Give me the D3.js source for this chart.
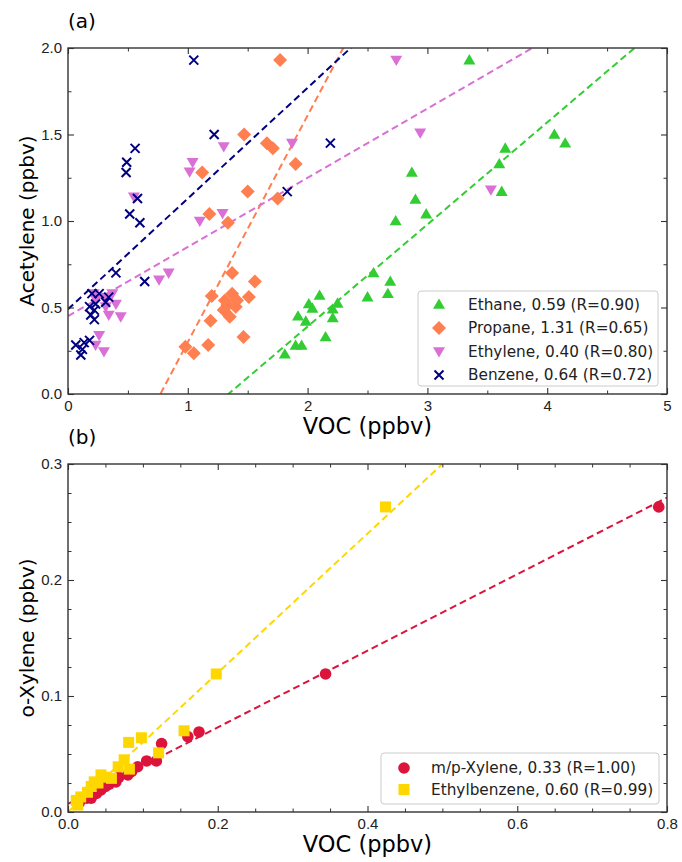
<!DOCTYPE html>
<html>
<head>
<meta charset="utf-8">
<script src="https://cdn.jsdelivr.net/npm/d3@7"></script>
<style>
  body { margin: 0; background: #fff; }
  svg { font-family: "DejaVu Sans", sans-serif; }
  .tick text { fill: #222; }
</style>
</head>
<body>
<svg id="chart"></svg>
<script>
var width = 682;
var height = 862;

// panel (a): acetylene vs VOC, [VOC, acetylene]
var ethane = [[3.35,1.93],[4.06,1.50],[4.15,1.45],[3.65,1.42],[3.60,1.33],[3.62,1.17],[2.87,1.28],
  [2.90,1.125],[2.99,1.04],[2.735,1.00],[2.55,0.70],[2.69,0.65],[2.50,0.56],[2.67,0.58],[2.10,0.57],
  [2.01,0.52],[2.04,0.495],[2.25,0.524],[2.21,0.49],[2.21,0.44],[1.92,0.45],[1.985,0.42],[2.15,0.33],
  [1.90,0.28],[1.95,0.28],[1.81,0.23]];
var propane = [[1.77,1.93],[1.47,1.50],[1.66,1.45],[1.71,1.42],[1.90,1.33],[1.12,1.28],[1.50,1.17],
  [1.75,1.13],[1.18,1.04],[1.335,0.99],[1.37,0.70],[1.56,0.65],[1.20,0.567],[1.37,0.58],[1.51,0.56],
  [1.33,0.515],[1.40,0.505],[1.30,0.485],[1.35,0.447],[1.31,0.54],[1.41,0.54],[1.19,0.424],
  [1.465,0.33],[1.17,0.283],[0.98,0.273],[1.05,0.235]];
var ethylene = [[2.74,1.93],[2.94,1.51],[3.53,1.18],[1.04,1.34],[1.015,1.285],[1.30,1.43],[1.87,1.45],
  [0.55,1.14],[1.29,1.045],[1.10,1.00],[0.84,0.70],[0.76,0.66],[0.37,0.58],[0.23,0.55],[0.40,0.52],
  [0.315,0.505],[0.34,0.457],[0.44,0.447],[0.26,0.34],[0.23,0.283],[0.30,0.245],[0.215,0.58],[0.30,0.56]];
var benzene = [[1.05,1.93],[1.22,1.50],[0.56,1.42],[0.49,1.34],[0.485,1.28],[0.58,1.13],[0.515,1.04],
  [0.60,0.99],[2.19,1.45],[1.83,1.17],[0.40,0.70],[0.64,0.65],[0.20,0.58],[0.26,0.58],[0.34,0.56],
  [0.315,0.53],[0.23,0.52],[0.18,0.505],[0.22,0.485],[0.19,0.457],[0.22,0.43],[0.18,0.31],
  [0.135,0.297],[0.065,0.283],[0.12,0.258],[0.107,0.225]];

// panel (b): o-xylene vs VOC
var mpXylene = [[0.015,0.008],[0.025,0.012],[0.031,0.012],[0.038,0.016],[0.044,0.019],[0.050,0.022],
  [0.055,0.024],[0.064,0.026],[0.068,0.030],[0.080,0.032],[0.085,0.035],[0.093,0.039],[0.105,0.044],
  [0.118,0.044],[0.125,0.059],[0.160,0.065],[0.175,0.069],[0.344,0.119],[0.789,0.263]];
var ethylbenzene = [[0.011,0.010],[0.013,0.006],[0.017,0.013],[0.026,0.017],[0.031,0.022],[0.035,0.026],
  [0.040,0.025],[0.044,0.032],[0.050,0.030],[0.058,0.029],[0.067,0.039],[0.075,0.045],[0.082,0.037],
  [0.081,0.060],[0.098,0.064],[0.121,0.051],[0.155,0.070],[0.198,0.119],[0.424,0.263]];

// fitted lines: slope from legend, intercept
var seriesA = ["Ethane", "Propane", "Ethylene", "Benzene"];
var slopesA = [0.59, 1.31, 0.40, 0.64];
var interceptsA = [-0.79, -1.01, 0.45, 0.49];
var rA = ["0.90", "0.65", "0.80", "0.72"];

var seriesB = ["m/p-Xylene", "Ethylbenzene"];
var slopesB = [0.33, 0.60];
var interceptsB = [0.007, 0.0];
var rB = ["1.00", "0.99"];

var xTicksA = [0, 1, 2, 3, 4, 5];
var yTicksA = [0.0, 0.5, 1.0, 1.5, 2.0];
var xTicksB = [0.0, 0.2, 0.4, 0.6, 0.8];
var yTicksB = [0.0, 0.1, 0.2, 0.3];

var svg = d3.select("#chart").attr("width", width).attr("height", height);

var left = 68, right = 667;

function shape(kind, g, color) {
  if (kind == "up") {
    g.append("path").attr("d", "M0,-6L6,4.3L-6,4.3Z").attr("fill", color);
  } else if (kind == "down") {
    g.append("path").attr("d", "M0,6L6,-4.3L-6,-4.3Z").attr("fill", color);
  } else if (kind == "diamond") {
    g.append("path").attr("d", "M0,-7L7,0L0,7L-7,0Z").attr("fill", color);
  } else if (kind == "x") {
    g.append("path").attr("d", "M-4.5,-4.5L4.5,4.5M-4.5,4.5L4.5,-4.5")
      .attr("stroke", color).attr("stroke-width", 2).attr("fill", "none");
  } else if (kind == "circle") {
    g.append("circle").attr("r", 5.8).attr("fill", color);
  } else if (kind == "square") {
    g.append("rect").attr("x", -5.5).attr("y", -5.5).attr("width", 11).attr("height", 11).attr("fill", color);
  }
}

function panel(opt) {
  var x = d3.scaleLinear().domain(opt.xDomain).range([left, right]);
  var y = d3.scaleLinear().domain(opt.yDomain).range([opt.bottom, opt.top]);
  var g = svg.append("g");

  g.append("clipPath").attr("id", opt.id + "clip")
    .append("rect").attr("x", left).attr("y", opt.top)
    .attr("width", right - left).attr("height", opt.bottom - opt.top);

  // fit lines
  var plot = g.append("g").attr("clip-path", "url(#" + opt.id + "clip)");
  opt.series.forEach(function (s, i) {
    var pts = opt.xDomain.map(v => [v, opt.slopes[i] * v + opt.intercepts[i]]);
    plot.append("path")
      .attr("d", d3.line().x(d => x(d[0])).y(d => y(d[1]))(pts))
      .attr("fill", "none").attr("stroke", opt.colors[i])
      .attr("stroke-width", 2).attr("stroke-dasharray", "7,4");
  });
  // points
  opt.series.forEach(function (s, i) {
    plot.selectAll(null).data(opt.data[i]).enter().append("g")
      .attr("transform", d => "translate(" + x(d[0]) + "," + y(d[1]) + ")")
      .each(function () { shape(opt.shapes[i], d3.select(this), opt.colors[i]); });
  });

  // axes, ticks pointing inward on all sides
  function ax(axis, tr, major, minor, labels) {
    var a = g.append("g").attr("transform", tr)
      .call(axis.scale(major.sc).tickValues(major.v).tickSize(-6).tickPadding(6)
        .tickFormat(labels ? major.f : ""));
    a.select(".domain").remove();
    a.selectAll(".tick line").attr("stroke", "#333").attr("stroke-width", 1.1);
    a.selectAll("text").attr("font-size", 15);
    var b = g.append("g").attr("transform", tr)
      .call(axis.scale(major.sc).tickValues(minor).tickSize(-3.5).tickFormat(""));
    b.select(".domain").remove();
    b.selectAll(".tick line").attr("stroke", "#333").attr("stroke-width", 1);
  }
  var xm = { sc: x, v: opt.xTicks, f: opt.xFmt };
  var ym = { sc: y, v: opt.yTicks, f: opt.yFmt };
  ax(d3.axisBottom(), "translate(0," + opt.bottom + ")", xm, opt.xMinor, true);
  ax(d3.axisTop(), "translate(0," + opt.top + ")", xm, opt.xMinor, false);
  ax(d3.axisLeft(), "translate(" + left + ",0)", ym, opt.yMinor, true);
  ax(d3.axisRight(), "translate(" + right + ",0)", ym, opt.yMinor, false);

  g.append("rect").attr("x", left).attr("y", opt.top)
    .attr("width", right - left).attr("height", opt.bottom - opt.top)
    .attr("fill", "none").attr("stroke", "#333").attr("stroke-width", 1.4);

  // labels
  g.append("text").attr("x", left).attr("y", opt.top - 20).attr("font-size", 20).text(opt.tag);
  g.append("text").attr("x", (left + right) / 2).attr("y", opt.bottom + 40)
    .attr("text-anchor", "middle").attr("font-size", 22.5).text("VOC (ppbv)");
  g.append("text").attr("transform", "translate(34," + (opt.top + opt.bottom) / 2 + ") rotate(-90)")
    .attr("text-anchor", "middle").attr("font-size", 20).text(opt.yLabel);

  // legend
  var L = opt.legend;
  g.append("rect").attr("x", L.x).attr("y", L.y).attr("width", L.w).attr("height", L.h)
    .attr("rx", 3).attr("fill", "#fff").attr("fill-opacity", 0.85)
    .attr("stroke", "#ccc").attr("stroke-width", 1);
  opt.series.forEach(function (s, i) {
    var ry = L.y + L.first + i * L.step;
    shape(opt.shapes[i], g.append("g").attr("transform", "translate(" + L.mx + "," + ry + ")"), opt.colors[i]);
    g.append("text").attr("x", L.tx).attr("y", ry).attr("dy", "0.35em")
      .attr("font-size", 15.3).attr("fill", "#222")
      .text(s + ", " + opt.slopes[i].toFixed(2) + " (R=" + opt.rs[i] + ")");
  });
}

panel({
  id: "a", tag: "(a)", top: 48, bottom: 394,
  xDomain: [0, 5], yDomain: [0, 2],
  xTicks: xTicksA, yTicks: yTicksA,
  xMinor: d3.range(0.5, 5, 1), yMinor: d3.range(0.25, 2, 0.5),
  xFmt: d3.format("d"), yFmt: d3.format(".1f"),
  yLabel: "Acetylene (ppbv)",
  series: seriesA, slopes: slopesA, intercepts: interceptsA, rs: rA,
  data: [ethane, propane, ethylene, benzene],
  colors: ["#32cd32", "#ff7f50", "#da70d6", "#000080"],
  shapes: ["up", "diamond", "down", "x"],
  legend: { x: 418, y: 291, w: 240, h: 95, first: 13.5, step: 23.5, mx: 439, tx: 468 }
});

panel({
  id: "b", tag: "(b)", top: 464, bottom: 812,
  xDomain: [0, 0.8], yDomain: [0, 0.3],
  xTicks: xTicksB, yTicks: yTicksB,
  xMinor: [0.05, 0.1, 0.15, 0.25, 0.3, 0.35, 0.45, 0.5, 0.55, 0.65, 0.7, 0.75],
  yMinor: [0.025, 0.05, 0.075, 0.125, 0.15, 0.175, 0.225, 0.25, 0.275],
  xFmt: d3.format(".1f"), yFmt: d3.format(".1f"),
  yLabel: "o-Xylene (ppbv)",
  series: seriesB, slopes: slopesB, intercepts: interceptsB, rs: rB,
  data: [mpXylene, ethylbenzene],
  colors: ["#dc143c", "#ffd700"],
  shapes: ["circle", "square"],
  legend: { x: 381, y: 753, w: 278, h: 51, first: 15, step: 21.5, mx: 404, tx: 431 }
});
</script>
</body>
</html>
